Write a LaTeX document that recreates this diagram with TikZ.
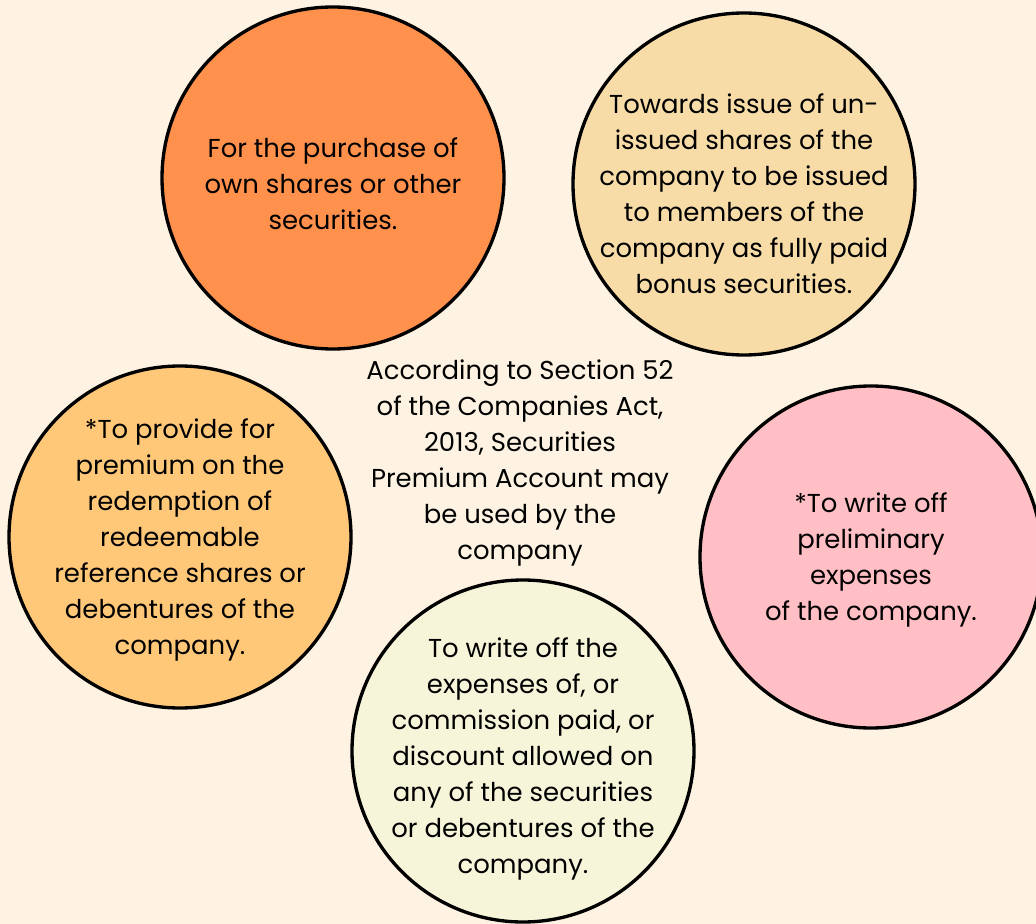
\documentclass[tikz,border=0pt]{standalone}
\usepackage{fontspec}
\setmainfont{Poppins}
\usetikzlibrary{positioning}

\definecolor{bgcream}{HTML}{FEF3E2}
\definecolor{orangefill}{HTML}{FF914D}
\definecolor{wheatfill}{HTML}{F7DCA8}
\definecolor{apricotfill}{HTML}{FFC878}
\definecolor{pinkfill}{HTML}{FFBFC4}
\definecolor{creamfill}{HTML}{F6F5DA}

\begin{document}
\begin{tikzpicture}[
    font=\fontsize{14.75}{20.5}\selectfont,
    bubble/.style={circle, draw=black, line width=1.9pt, minimum size=6.84cm, inner sep=0pt},
    bubbletext/.style={align=center, inner sep=0pt}
]

    % Fond
    \fill[bgcream] (0,0) rectangle (20.72,-18.48);
    \useasboundingbox (0,0) rectangle (20.72,-18.48);

    % Cercles
    \node[bubble, fill=orangefill] (purchase) at (6.66,-3.56) {};
    \node[bubble, fill=wheatfill] (bonus) at (14.88,-3.68) {};
    \node[bubble, fill=apricotfill] (redemption) at (3.60,-10.74) {};
    \node[bubble, fill=pinkfill] (preliminary) at (17.42,-11.14) {};
    \node[bubble, fill=creamfill] (commission) at (10.46,-15.02) {};

    % Textes des cercles
    \node[bubbletext] (purchase_txt) at ([yshift=-0.12cm]purchase.center) {
        For the purchase of\\
        own shares or other\\
        securities.
    };
    \node[bubbletext] (bonus_txt) at ([yshift=-0.2cm]bonus.center) {
        Towards issue of un-\\
        issued shares of the\\
        company to be issued\\
        to members of the\\
        company as fully paid\\
        bonus securities.
    };
    \node[bubbletext] (redemption_txt) at ([yshift=-0.06cm]redemption.center) {
        *To provide for\\
        premium on the\\
        redemption of\\
        redeemable\\
        reference shares or\\
        debentures of the\\
        company.
    };
    \node[bubbletext] (preliminary_txt) at ([yshift=-0.06cm]preliminary.center) {
        *To write off\\
        preliminary\\
        expenses\\
        of the company.
    };
    \node[bubbletext] (commission_txt) at ([yshift=-0.16cm]commission.center) {
        To write off the\\
        expenses of, or\\
        commission paid, or\\
        discount allowed on\\
        any of the securities\\
        or debentures of the\\
        company.
    };

    % Texte central
    \node[bubbletext] (section) at (10.40,-9.26) {
        According to Section 52\\
        of the Companies Act,\\
        2013, Securities\\
        Premium Account may\\
        be used by the\\
        company
    };

\end{tikzpicture}
\end{document}
